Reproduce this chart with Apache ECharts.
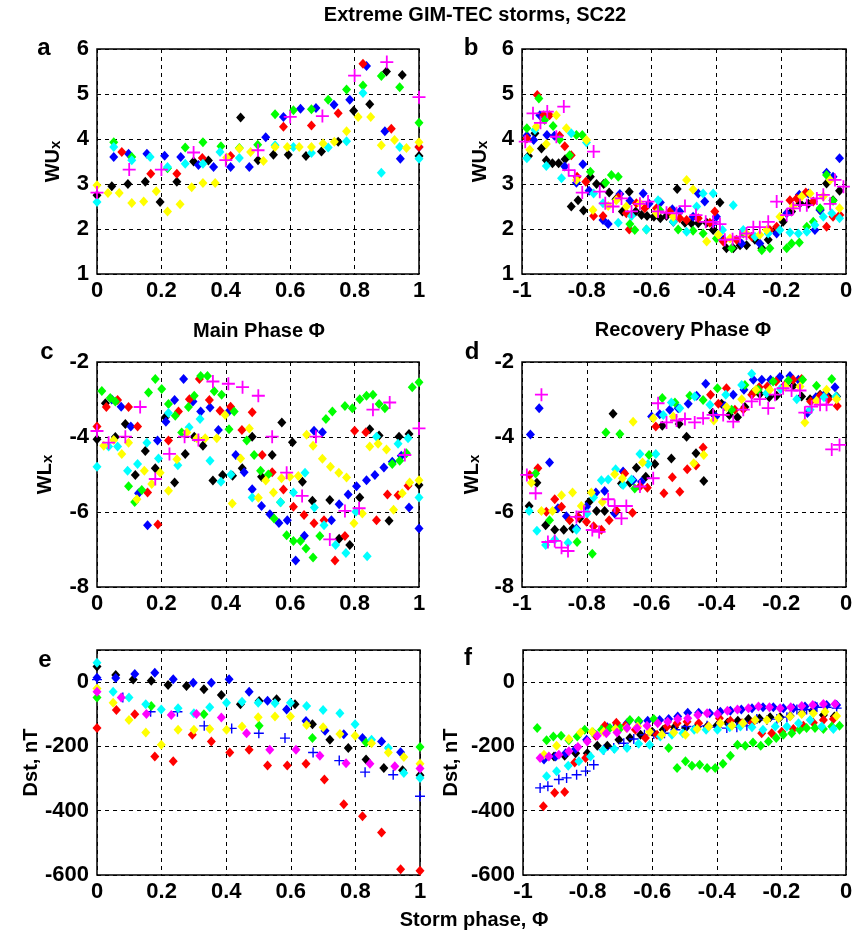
<!DOCTYPE html>
<html>
<head>
<meta charset="utf-8">
<title>Extreme GIM-TEC storms, SC22</title>
<script src="https://cdn.jsdelivr.net/npm/echarts@6/dist/echarts.min.js"></script>
<style>
  html, body { margin: 0; padding: 0; background: #fff; }
  #chart { width: 858px; height: 938px; }
</style>
</head>
<body>
<div id="chart"></div>
<script>
// ---- panel a : WUx vs main phase ----
const aBlack = [[0,2.75],[0.046,2.95],[0.096,3.0],[0.15,3.05],[0.196,2.6],[0.248,3.05],[0.3,3.5],[0.346,3.52],[0.446,4.48],[0.5,3.53],[0.548,3.65],[0.594,3.65],[0.649,3.62],[0.697,3.72],[0.749,3.94],[0.797,4.63],[0.847,4.77],[0.899,5.5],[0.948,5.42],[1,3.62]]
const aBlue = [[0.052,3.6],[0.098,3.67],[0.155,3.67],[0.21,3.63],[0.26,3.6],[0.315,3.42],[0.362,3.38],[0.415,3.38],[0.473,3.38],[0.524,4.04],[0.579,4.49],[0.632,4.67],[0.68,4.69],[0.736,4.76],[0.785,4.87],[0.837,5.62],[0.894,4.17],[0.942,3.56],[1,3.82]]
const aRed = [[0.077,3.71],[0.167,3.23],[0.248,3.23],[0.327,3.58],[0.415,3.62],[0.579,4.27],[0.666,4.3],[0.749,4.57],[0.826,5.67],[0.914,4.23],[1,3.82]]
const aGreen = [[0.052,3.93],[0.108,3.6],[0.219,3.35],[0.274,3.81],[0.329,3.93],[0.385,3.84],[0.442,3.8],[0.499,3.87],[0.553,4.55],[0.61,4.64],[0.666,4.66],[0.718,4.87],[0.775,5.1],[0.826,5.19],[0.883,5.4],[0.94,5.15],[1,4.36]]
const aCyan = [[0,2.6],[0.052,3.82],[0.108,3.53],[0.165,3.6],[0.219,3.38],[0.274,3.45],[0.329,3.45],[0.382,3.71],[0.442,3.58],[0.553,3.86],[0.61,3.82],[0.666,3.69],[0.718,3.81],[0.775,3.95],[0.826,5.02],[0.883,3.25],[0.94,3.82],[1,3.56]]
const aYellow = [[0,2.97],[0.034,2.8],[0.069,2.8],[0.108,2.58],[0.145,2.61],[0.184,2.84],[0.219,2.39],[0.258,2.55],[0.294,2.93],[0.329,3.02],[0.367,3.02],[0.403,3.59],[0.442,3.79],[0.477,3.71],[0.517,3.51],[0.553,3.82],[0.591,3.82],[0.628,3.82],[0.666,3.82],[0.702,3.9],[0.737,3.94],[0.775,4.17],[0.811,4.49],[0.85,4.49],[0.883,3.86],[0.924,3.98],[0.961,3.8],[1,3.93]]
const aMagenta = [[0,2.81],[0.1,3.32],[0.2,3.32],[0.3,3.7],[0.4,3.53],[0.5,3.75],[0.6,4.49],[0.7,4.51],[0.8,5.41],[0.9,5.71],[1,4.93]]

// ---- panel b : WUx vs recovery phase ----
const bBlack = [[-0.98,3.62],[-0.96,4.13],[-0.94,3.79],[-0.925,3.53],[-0.906,3.46],[-0.887,3.46],[-0.867,3.55],[-0.848,2.5],[-0.827,2.64],[-0.81,2.41],[-0.789,3.16],[-0.77,3.0],[-0.748,3.0],[-0.731,2.81],[-0.71,2.66],[-0.69,2.39],[-0.669,2.83],[-0.649,2.39],[-0.631,2.31],[-0.614,2.29],[-0.593,2.27],[-0.573,2.24],[-0.554,2.29],[-0.533,2.16],[-0.521,2.89],[-0.497,2.14],[-0.477,2.13],[-0.456,2.13],[-0.43,2.14],[-0.41,1.98],[-0.389,2.59],[-0.369,1.57],[-0.348,1.57],[-0.327,1.64],[-0.307,1.64],[-0.281,1.76],[-0.26,1.57],[-0.24,1.76],[-0.219,1.98],[-0.194,2.16],[-0.168,2.39],[-0.142,2.57],[-0.116,2.56],[-0.08,2.42],[-0.06,3.01],[-0.04,2.64],[-0.02,2.85]]
const bBlue = [[-0.985,4.07],[-0.964,3.98],[-0.945,4.53],[-0.923,4.09],[-0.9,4.07],[-0.868,3.39],[-0.832,3.03],[-0.812,3.44],[-0.793,2.85],[-0.75,2.2],[-0.734,2.11],[-0.698,2.78],[-0.667,2.63],[-0.626,2.79],[-0.608,2.56],[-0.573,2.59],[-0.536,2.44],[-0.513,2.39],[-0.472,2.27],[-0.456,2.79],[-0.436,2.61],[-0.41,2.13],[-0.4,2.27],[-0.379,1.76],[-0.322,1.68],[-0.266,1.68],[-0.214,1.9],[-0.183,2.35],[-0.144,2.76],[-0.116,2.79],[-0.096,1.98],[-0.08,2.42],[-0.06,3.25],[-0.04,3.16],[-0.02,3.57]]
const bRed = [[-0.985,4.01],[-0.953,4.98],[-0.933,4.53],[-0.915,4.53],[-0.884,4.07],[-0.868,3.84],[-0.848,3.64],[-0.83,3.16],[-0.803,3.05],[-0.779,2.29],[-0.75,2.29],[-0.703,2.7],[-0.678,2.35],[-0.669,1.99],[-0.647,2.57],[-0.621,2.46],[-0.585,2.46],[-0.544,2.39],[-0.513,2.24],[-0.492,2.2],[-0.456,2.24],[-0.42,2.14],[-0.405,2.39],[-0.379,1.72],[-0.338,1.76],[-0.291,1.83],[-0.235,1.98],[-0.214,2.05],[-0.173,2.64],[-0.152,2.68],[-0.124,2.81],[-0.101,2.61],[-0.06,2.05],[-0.04,2.27],[-0.019,2.31]]
const bGreen = [[-0.985,4.24],[-0.948,4.9],[-0.93,4.42],[-0.904,4.29],[-0.884,3.99],[-0.853,3.64],[-0.832,4.09],[-0.814,4.09],[-0.789,3.27],[-0.742,3.03],[-0.724,3.2],[-0.703,3.16],[-0.667,2.11],[-0.652,1.98],[-0.616,1.99],[-0.575,2.42],[-0.518,1.99],[-0.472,1.96],[-0.441,1.9],[-0.4,1.79],[-0.353,1.57],[-0.317,1.9],[-0.26,1.53],[-0.235,1.57],[-0.183,1.57],[-0.168,1.68],[-0.144,1.7],[-0.121,2.05],[-0.101,2.16],[-0.08,2.46],[-0.06,3.2],[-0.04,2.63]]
const bCyan = [[-0.985,3.57],[-0.96,4.2],[-0.925,3.4],[-0.878,3.13],[-0.848,4.13],[-0.801,3.92],[-0.779,2.79],[-0.75,2.57],[-0.703,2.14],[-0.662,2.29],[-0.616,1.99],[-0.58,2.64],[-0.533,2.16],[-0.492,1.94],[-0.461,2.5],[-0.441,2.79],[-0.41,2.79],[-0.381,1.98],[-0.348,2.53],[-0.317,1.98],[-0.281,1.83],[-0.24,1.9],[-0.204,1.98],[-0.173,1.92],[-0.147,1.9],[-0.121,1.94],[-0.096,2.09],[-0.07,2.27],[-0.044,2.35],[-0.02,2.24]]
const bYellow = [[-0.976,3.76],[-0.956,4.27],[-0.925,3.89],[-0.894,4.53],[-0.863,4.24],[-0.832,3.09],[-0.801,3.98],[-0.781,2.42],[-0.734,2.51],[-0.709,2.64],[-0.678,2.5],[-0.636,2.57],[-0.585,2.35],[-0.533,2.27],[-0.492,3.09],[-0.472,2.88],[-0.43,1.72],[-0.394,1.87],[-0.358,1.79],[-0.307,1.9],[-0.266,1.87],[-0.245,1.98],[-0.204,2.27],[-0.163,2.5],[-0.137,2.72],[-0.111,2.79],[-0.07,2.72],[-0.049,3.09],[-0.02,2.46]]
const bMagenta = [[-0.99,3.94],[-0.966,4.57],[-0.943,4.36],[-0.922,4.61],[-0.894,4.05],[-0.871,4.72],[-0.856,3.31],[-0.837,3.18],[-0.814,2.81],[-0.779,3.72],[-0.76,2.83],[-0.743,2.57],[-0.719,2.5],[-0.693,2.68],[-0.662,2.39],[-0.636,2.56],[-0.611,2.61],[-0.58,2.39],[-0.554,2.36],[-0.523,2.35],[-0.497,2.51],[-0.463,2.31],[-0.433,2.16],[-0.41,2.16],[-0.389,2.11],[-0.374,1.76],[-0.35,1.77],[-0.327,1.83],[-0.307,1.9],[-0.286,2.04],[-0.266,2.04],[-0.24,2.16],[-0.214,2.61],[-0.183,2.31],[-0.163,2.46],[-0.142,2.53],[-0.121,2.53],[-0.09,2.68],[-0.07,2.76],[-0.049,2.56],[-0.034,3.09],[-0.008,2.94]]

// ---- panel c : WLx vs main phase ----
const cBlack = [[0,-4.06],[0.026,-3.1],[0.057,-4.0],[0.088,-3.65],[0.119,-5.01],[0.15,-4.37],[0.181,-4.83],[0.212,-3.47],[0.241,-5.21],[0.274,-4.45],[0.302,-3.99],[0.329,-4.23],[0.36,-5.16],[0.39,-5.01],[0.421,-5.03],[0.451,-4.83],[0.482,-3.99],[0.511,-5.06],[0.544,-4.48],[0.574,-3.61],[0.607,-4.14],[0.638,-5.19],[0.669,-5.7],[0.723,-5.68],[0.752,-6.71],[0.785,-6.88],[0.816,-5.61],[0.847,-3.79],[0.876,-3.96],[0.907,-6.23],[0.938,-3.99],[0.969,-3.92],[1,-5.28]]
const cBlue = [[0.046,-3.0],[0.075,-3.19],[0.105,-3.72],[0.129,-5.5],[0.157,-6.35],[0.188,-4.09],[0.214,-3.59],[0.241,-3.01],[0.269,-2.45],[0.298,-3.05],[0.322,-3.32],[0.351,-3.21],[0.377,-3.81],[0.409,-3.32],[0.431,-4.48],[0.457,-4.94],[0.482,-5.39],[0.511,-5.84],[0.537,-6.06],[0.565,-6.29],[0.591,-6.22],[0.617,-7.29],[0.644,-6.63],[0.674,-3.83],[0.7,-3.87],[0.728,-6.22],[0.752,-5.79],[0.78,-5.53],[0.806,-5.31],[0.837,-5.15],[0.863,-5.01],[0.891,-4.81],[0.917,-4.66],[0.945,-4.5],[0.969,-5.88],[1,-6.44]]
const cRed = [[0,-3.72],[0.029,-3.2],[0.064,-3.01],[0.098,-3.2],[0.126,-3.72],[0.157,-5.48],[0.189,-6.33],[0.222,-4.09],[0.253,-3.32],[0.287,-2.99],[0.318,-2.45],[0.349,-3.01],[0.382,-3.3],[0.415,-3.19],[0.45,-3.81],[0.482,-3.34],[0.513,-4.48],[0.544,-4.94],[0.579,-5.4],[0.61,-5.86],[0.643,-6.08],[0.674,-6.3],[0.705,-6.22],[0.739,-7.29],[0.77,-6.64],[0.8,-3.83],[0.835,-3.87],[0.868,-6.22],[0.902,-5.53],[0.935,-5.55],[0.966,-5.3]]
const cGreen = [[0.015,-2.77],[0.041,-2.96],[0.057,-3.05],[0.098,-5.31],[0.117,-5.73],[0.139,-5.41],[0.16,-2.81],[0.181,-2.45],[0.201,-2.72],[0.222,-3.12],[0.243,-3.43],[0.263,-3.88],[0.284,-3.2],[0.302,-2.9],[0.322,-2.37],[0.343,-2.37],[0.364,-2.78],[0.387,-2.87],[0.41,-3.79],[0.426,-3.32],[0.465,-4.09],[0.488,-4.48],[0.508,-4.9],[0.532,-5.0],[0.55,-6.17],[0.57,-5.74],[0.589,-6.62],[0.61,-6.77],[0.632,-6.77],[0.649,-6.97],[0.671,-7.21],[0.692,-6.64],[0.711,-3.52],[0.731,-3.32],[0.77,-3.17],[0.793,-3.23],[0.816,-2.99],[0.837,-2.9],[0.857,-2.87],[0.876,-3.12],[0.894,-3.23],[0.917,-4.72],[0.94,-4.63],[0.961,-4.43],[0.979,-2.67],[1,-2.54]]
const cCyan = [[0,-4.79],[0.036,-4.25],[0.064,-4.25],[0.095,-4.9],[0.126,-4.72],[0.155,-4.15],[0.191,-4.57],[0.222,-3.36],[0.251,-4.75],[0.286,-3.74],[0.32,-3.52],[0.351,-4.63],[0.385,-5.19],[0.416,-5.0],[0.482,-5.61],[0.57,-5.74],[0.61,-5.48],[0.646,-4.95],[0.675,-5.88],[0.705,-6.35],[0.741,-6.88],[0.773,-7.09],[0.804,-5.99],[0.839,-7.18],[0.868,-3.99],[0.935,-4.18],[0.966,-4.03],[1,-5.61]]
const cYellow = [[0.021,-4.23],[0.052,-4.08],[0.077,-4.45],[0.098,-4.15],[0.124,-5.66],[0.147,-4.9],[0.17,-5.25],[0.196,-4.95],[0.222,-5.43],[0.248,-4.59],[0.279,-3.88],[0.31,-4.03],[0.336,-4.03],[0.372,-4.03],[0.398,-3.41],[0.42,-5.77],[0.446,-4.57],[0.473,-3.77],[0.501,-5.62],[0.524,-5.16],[0.548,-5.48],[0.573,-5.1],[0.599,-5.06],[0.625,-5.04],[0.651,-3.94],[0.671,-4.23],[0.7,-4.58],[0.725,-4.79],[0.751,-4.95],[0.775,-5.08],[0.798,-6.3],[0.824,-6.04],[0.847,-4.25],[0.873,-4.18],[0.899,-4.33],[0.921,-5.94],[0.948,-5.5],[0.971,-5.21],[1,-5.15]]
const cMagenta = [[0,-3.84],[0.036,-4.15],[0.088,-3.99],[0.134,-3.2],[0.181,-5.12],[0.225,-4.45],[0.272,-3.99],[0.315,-4.08],[0.36,-2.52],[0.408,-2.58],[0.452,-2.67],[0.501,-2.9],[0.544,-3.99],[0.589,-4.95],[0.637,-5.57],[0.68,-3.99],[0.723,-6.73],[0.77,-5.97],[0.814,-5.9],[0.857,-3.27],[0.909,-3.08],[0.956,-4.48],[1,-3.77]]

// ---- panel d : WLx vs recovery phase ----
const dBlack = [[-0.978,-5.84],[-0.954,-5.22],[-0.927,-6.35],[-0.899,-6.47],[-0.871,-6.47],[-0.844,-6.44],[-0.822,-6.17],[-0.793,-5.73],[-0.77,-5.97],[-0.745,-5.97],[-0.719,-3.38],[-0.693,-5.24],[-0.667,-5.22],[-0.647,-4.82],[-0.618,-5.06],[-0.59,-4.72],[-0.567,-3.7],[-0.539,-4.57],[-0.515,-3.65],[-0.492,-3.99],[-0.463,-4.43],[-0.439,-5.17],[-0.412,-3.35],[-0.384,-3.11],[-0.36,-3.41],[-0.335,-3.47],[-0.312,-3.2],[-0.286,-2.81],[-0.266,-2.85],[-0.237,-2.94],[-0.214,-2.9],[-0.194,-2.67],[-0.163,-2.63],[-0.137,-2.92],[-0.111,-2.99],[-0.08,-2.87],[-0.055,-2.92],[-0.029,-2.92]]
const dBlue = [[-0.974,-3.93],[-0.947,-3.23],[-0.915,-4.68],[-0.889,-5.9],[-0.863,-6.11],[-0.832,-6.44],[-0.801,-5.86],[-0.772,-5.48],[-0.745,-5.44],[-0.714,-6.04],[-0.688,-4.92],[-0.657,-5.15],[-0.631,-5.19],[-0.6,-3.45],[-0.575,-3.39],[-0.544,-3.27],[-0.518,-3.23],[-0.487,-3.11],[-0.461,-2.9],[-0.433,-2.58],[-0.402,-3.45],[-0.374,-3.17],[-0.348,-2.87],[-0.315,-2.74],[-0.286,-2.47],[-0.26,-2.47],[-0.233,-2.47],[-0.204,-2.4],[-0.173,-2.37],[-0.147,-2.47],[-0.119,-3.36],[-0.093,-2.94],[-0.065,-2.85],[-0.034,-2.67]]
const dRed = [[-0.976,-5.01],[-0.951,-4.83],[-0.925,-5.99],[-0.899,-5.66],[-0.878,-5.86],[-0.853,-6.22],[-0.827,-6.13],[-0.801,-6.26],[-0.779,-6.38],[-0.755,-6.47],[-0.731,-6.22],[-0.709,-5.95],[-0.683,-4.97],[-0.659,-6.02],[-0.636,-5.32],[-0.613,-5.35],[-0.587,-3.72],[-0.562,-5.5],[-0.536,-5.07],[-0.513,-5.46],[-0.49,-4.86],[-0.463,-4.76],[-0.441,-4.28],[-0.418,-2.87],[-0.394,-3.11],[-0.369,-2.7],[-0.343,-3.27],[-0.317,-3.26],[-0.291,-2.87],[-0.268,-2.67],[-0.243,-2.65],[-0.216,-2.52],[-0.188,-2.61],[-0.163,-2.47],[-0.137,-2.45],[-0.109,-3.05],[-0.08,-2.9],[-0.055,-2.99],[-0.027,-3.17]]
const dGreen = [[-0.958,-4.97],[-0.915,-6.22],[-0.83,-6.8],[-0.783,-7.11],[-0.741,-3.88],[-0.698,-3.92],[-0.652,-5.37],[-0.608,-4.48],[-0.567,-2.96],[-0.528,-3.08],[-0.482,-2.9],[-0.441,-3.01],[-0.397,-2.7],[-0.353,-3.27],[-0.312,-2.61],[-0.271,-2.74],[-0.225,-2.52],[-0.178,-2.49],[-0.134,-2.47],[-0.091,-2.63],[-0.044,-2.45]]
const dCyan = [[-0.978,-5.97],[-0.954,-6.5],[-0.927,-6.88],[-0.899,-6.73],[-0.858,-6.82],[-0.832,-6.47],[-0.799,-6.04],[-0.779,-5.61],[-0.755,-5.15],[-0.734,-5.13],[-0.711,-4.86],[-0.688,-5.28],[-0.662,-5.13],[-0.636,-4.45],[-0.611,-4.72],[-0.587,-4.45],[-0.564,-3.41],[-0.539,-3.08],[-0.513,-3.23],[-0.467,-2.92],[-0.42,-3.14],[-0.371,-2.87],[-0.322,-2.61],[-0.291,-2.31],[-0.245,-2.83],[-0.202,-2.72],[-0.152,-2.99],[-0.111,-3.27],[-0.068,-2.94],[-0.031,-2.92]]
const dYellow = [[-0.971,-5.22],[-0.94,-5.97],[-0.906,-5.97],[-0.878,-5.55],[-0.844,-5.48],[-0.817,-5.84],[-0.786,-5.48],[-0.752,-5.73],[-0.714,-4.99],[-0.69,-5.1],[-0.657,-3.59],[-0.628,-4.68],[-0.595,-3.5],[-0.533,-3.45],[-0.47,-4.7],[-0.439,-4.48],[-0.408,-3.56],[-0.369,-3.2],[-0.322,-2.99],[-0.278,-2.74],[-0.235,-2.74],[-0.188,-2.65],[-0.142,-2.65],[-0.127,-3.61],[-0.091,-3.03],[-0.06,-2.74],[-0.029,-2.99]]
const dMagenta = [[-0.985,-5.01],[-0.958,-5.5],[-0.94,-2.87],[-0.92,-6.8],[-0.899,-6.77],[-0.878,-6.95],[-0.858,-7.04],[-0.832,-6.13],[-0.809,-5.99],[-0.783,-6.48],[-0.762,-6.53],[-0.734,-5.66],[-0.714,-5.84],[-0.693,-6.17],[-0.678,-5.84],[-0.636,-5.32],[-0.595,-5.1],[-0.58,-3.1],[-0.554,-3.61],[-0.523,-3.56],[-0.497,-3.52],[-0.467,-3.61],[-0.441,-3.5],[-0.41,-3.41],[-0.379,-3.41],[-0.348,-3.59],[-0.317,-3.27],[-0.291,-3.05],[-0.266,-2.99],[-0.24,-3.23],[-0.219,-2.87],[-0.194,-2.7],[-0.168,-2.76],[-0.142,-2.76],[-0.127,-3.35],[-0.106,-3.19],[-0.08,-3.14],[-0.06,-3.14],[-0.044,-4.33],[-0.02,-4.21]]

// ---- panel e : Dst vs main phase ----
const eBlack = [[0,49],[0.058,22],[0.112,8],[0.168,4],[0.22,-9],[0.277,-12],[0.331,-22],[0.385,-40],[0.444,-69],[0.502,-59],[0.556,-53],[0.613,-69],[0.667,-131],[0.721,-179],[0.778,-205],[0.833,-241],[0.888,-267],[0.946,-274],[1,-290]]
const eBlue = [[0,14],[0.058,13],[0.117,25],[0.179,29],[0.236,9],[0.298,-2],[0.354,-2],[0.409,9],[0.471,-30],[0.528,-58],[0.587,-85],[0.647,-121],[0.706,-151],[0.764,-162],[0.822,-174],[0.881,-185],[0.94,-218]]
const eBluePlus = [[0,8],[0.08,-48],[0.166,-92],[0.249,-92],[0.332,-136],[0.417,-144],[0.501,-159],[0.582,-174],[0.669,-219],[0.75,-244],[0.83,-280],[0.917,-288],[1,-355]]
const eRed = [[0,-143],[0.06,-87],[0.117,-100],[0.179,-231],[0.236,-246],[0.295,-164],[0.354,-185],[0.411,-219],[0.471,-210],[0.528,-259],[0.589,-259],[0.647,-254],[0.704,-303],[0.764,-380],[0.822,-417],[0.881,-468],[0.94,-582],[1,-587]]
const eGreen = [[0,-48],[0.168,-74],[0.331,-100],[0.502,-136],[0.667,-174],[0.833,-188],[1,-202]]
const eCyan = [[0,60],[0.05,-30],[0.099,-48],[0.151,-69],[0.199,-85],[0.251,-81],[0.3,-97],[0.349,-78],[0.401,-64],[0.449,-61],[0.499,-64],[0.551,-66],[0.599,-64],[0.649,-74],[0.7,-87],[0.752,-97],[0.799,-131],[0.85,-179],[0.902,-205],[0.95,-283],[1,-298]]
const eYellow = [[0,-20],[0.05,-64],[0.099,-118],[0.151,-157],[0.199,-195],[0.251,-148],[0.3,-148],[0.349,-146],[0.401,-148],[0.449,-138],[0.499,-109],[0.551,-107],[0.599,-107],[0.649,-133],[0.7,-140],[0.752,-161],[0.799,-167],[0.85,-190],[0.902,-219],[0.95,-233],[1,-254]]
const eMagenta = [[0,-30],[0.075,-48],[0.153,-99],[0.23,-102],[0.308,-99],[0.385,-110],[0.463,-159],[0.535,-210],[0.616,-210],[0.69,-229],[0.771,-252],[0.845,-254],[0.922,-262],[1,-269]]

// ---- panel f : Dst vs recovery phase ----
const fBlack = [[-0.935,-236],[-0.904,-231],[-0.871,-229],[-0.837,-221],[-0.801,-221],[-0.77,-198],[-0.739,-198],[-0.703,-179],[-0.669,-174],[-0.636,-164],[-0.6,-154],[-0.566,-148],[-0.531,-140],[-0.497,-143],[-0.463,-140],[-0.43,-138],[-0.4,-136],[-0.367,-126],[-0.335,-120],[-0.302,-115],[-0.268,-113],[-0.235,-109],[-0.204,-109],[-0.173,-105],[-0.137,-97],[-0.103,-89],[-0.07,-102],[-0.036,-107]]
const fBlue = [[-0.935,-241],[-0.899,-231],[-0.868,-221],[-0.837,-208],[-0.803,-179],[-0.775,-164],[-0.739,-140],[-0.709,-133],[-0.678,-128],[-0.642,-123],[-0.614,-120],[-0.577,-118],[-0.549,-115],[-0.521,-107],[-0.49,-95],[-0.456,-95],[-0.422,-97],[-0.389,-92],[-0.358,-89],[-0.324,-85],[-0.291,-81],[-0.257,-78],[-0.225,-78],[-0.194,-81],[-0.163,-81],[-0.127,-76],[-0.096,-74],[-0.06,-71],[-0.029,-71]]
const fBluePlus = [[-0.947,-329],[-0.923,-324],[-0.889,-303],[-0.865,-298],[-0.834,-288],[-0.806,-277],[-0.781,-257],[-0.75,-210],[-0.719,-205],[-0.688,-190],[-0.657,-177],[-0.624,-164],[-0.595,-161],[-0.562,-159],[-0.528,-148],[-0.494,-138],[-0.461,-138],[-0.43,-136],[-0.4,-140],[-0.369,-143],[-0.338,-140],[-0.307,-136],[-0.276,-115],[-0.245,-118],[-0.214,-115],[-0.183,-109],[-0.152,-85],[-0.122,-85],[-0.09,-78],[-0.06,-78],[-0.029,-81]]
const fRed = [[-0.937,-386],[-0.902,-344],[-0.871,-342],[-0.84,-250],[-0.806,-236],[-0.775,-167],[-0.747,-136],[-0.711,-126],[-0.683,-136],[-0.652,-148],[-0.621,-174],[-0.585,-164],[-0.554,-138],[-0.523,-128],[-0.492,-123],[-0.456,-128],[-0.426,-138],[-0.392,-112],[-0.358,-120],[-0.322,-128],[-0.291,-126],[-0.261,-159],[-0.23,-159],[-0.199,-154],[-0.163,-146],[-0.132,-136],[-0.101,-126],[-0.07,-118],[-0.039,-115]]
const fGreen = [[-0.956,-143],[-0.927,-181],[-0.906,-169],[-0.882,-167],[-0.858,-181],[-0.832,-169],[-0.809,-148],[-0.783,-157],[-0.757,-148],[-0.731,-143],[-0.698,-143],[-0.669,-118],[-0.642,-120],[-0.595,-115],[-0.549,-205],[-0.523,-267],[-0.497,-246],[-0.477,-260],[-0.453,-257],[-0.43,-267],[-0.405,-267],[-0.381,-254],[-0.358,-229],[-0.336,-195],[-0.312,-198],[-0.288,-188],[-0.264,-198],[-0.24,-185],[-0.216,-174],[-0.194,-164],[-0.168,-159],[-0.144,-148],[-0.122,-143],[-0.096,-143],[-0.07,-146],[-0.044,-138],[-0.02,-136]]
const fCyan = [[-0.927,-293],[-0.896,-277],[-0.86,-260],[-0.827,-246],[-0.791,-231],[-0.752,-212],[-0.717,-208],[-0.678,-205],[-0.642,-192],[-0.608,-195],[-0.575,-169],[-0.539,-164],[-0.505,-159],[-0.47,-148],[-0.433,-148],[-0.398,-148],[-0.36,-140],[-0.327,-138],[-0.291,-140],[-0.257,-148],[-0.219,-138],[-0.183,-138],[-0.147,-128],[-0.111,-118],[-0.075,-138],[-0.039,-146]]
const fYellow = [[-0.935,-226],[-0.896,-198],[-0.858,-177],[-0.822,-157],[-0.786,-154],[-0.75,-154],[-0.714,-146],[-0.68,-143],[-0.645,-138],[-0.608,-154],[-0.57,-164],[-0.533,-157],[-0.497,-164],[-0.461,-146],[-0.425,-138],[-0.389,-128],[-0.353,-136],[-0.319,-128],[-0.281,-118],[-0.245,-118],[-0.209,-112],[-0.173,-107],[-0.137,-99],[-0.101,-97],[-0.065,-92],[-0.029,-105]]
const fMagenta = [[-0.947,-236],[-0.92,-231],[-0.889,-226],[-0.858,-215],[-0.83,-202],[-0.801,-185],[-0.77,-167],[-0.742,-159],[-0.709,-157],[-0.678,-143],[-0.647,-143],[-0.616,-136],[-0.583,-128],[-0.552,-123],[-0.521,-115],[-0.49,-112],[-0.459,-102],[-0.43,-97],[-0.398,-99],[-0.367,-89],[-0.336,-85],[-0.302,-81],[-0.271,-76],[-0.237,-78],[-0.204,-81],[-0.171,-78],[-0.137,-74],[-0.103,-71],[-0.07,-68],[-0.034,-68]]

const FONT = '"Liberation Sans", Arial, sans-serif'
const PLUS = 'path://M5.6,0H7.4V5.6H13V7.4H7.4V13H5.6V7.4H0V5.6H5.6Z'

// [data, color, symbol, size]
const dia = (data, color) => [data, color, 'diamond', [9, 10]]
const plus = (data, color, size) => [data, color, PLUS, size]

const panels = [
  { left: 97, top: 49, width: 322, x: [0, 1], y: [1, 6, 1], name: ['WU', 'x'], nameGap: 34,
    series: [dia(aBlack, '#000'), dia(aBlue, '#00f'), dia(aRed, '#f00'), dia(aGreen, '#0f0'), dia(aCyan, '#0ff'), dia(aYellow, '#ff0'), plus(aMagenta, '#f0f', 13)] },
  { left: 522, top: 49, width: 324, x: [-1, 0], y: [1, 6, 1], name: ['WU', 'x'], nameGap: 32,
    series: [dia(bBlack, '#000'), dia(bBlue, '#00f'), dia(bRed, '#f00'), dia(bGreen, '#0f0'), dia(bCyan, '#0ff'), dia(bYellow, '#ff0'), plus(bMagenta, '#f0f', 13)] },
  { left: 97, top: 362, width: 322, x: [0, 1], y: [-8, -2, 2], name: ['WL', 'x'], nameGap: 42,
    series: [dia(cBlack, '#000'), dia(cBlue, '#00f'), dia(cRed, '#f00'), dia(cGreen, '#0f0'), dia(cCyan, '#0ff'), dia(cYellow, '#ff0'), plus(cMagenta, '#f0f', 13)] },
  { left: 522, top: 362, width: 324, x: [-1, 0], y: [-8, -2, 2], name: ['WL', 'x'], nameGap: 40,
    series: [dia(dBlack, '#000'), dia(dBlue, '#00f'), dia(dRed, '#f00'), dia(dGreen, '#0f0'), dia(dCyan, '#0ff'), dia(dYellow, '#ff0'), plus(dMagenta, '#f0f', 13)] },
  { left: 97, top: 650, width: 323, x: [0, 1], y: [-600, 100, 200], name: ['Dst, nT', ''], nameGap: 40,
    series: [dia(eBlack, '#000'), dia(eBlue, '#00f'), plus(eBluePlus, '#00f', 10), dia(eRed, '#f00'), dia(eGreen, '#0f0'), dia(eCyan, '#0ff'), dia(eYellow, '#ff0'), dia(eMagenta, '#f0f')] },
  { left: 523, top: 650, width: 323, x: [-1, 0], y: [-600, 100, 200], name: ['Dst, nT', ''], nameGap: 62,
    series: [dia(fBlack, '#000'), dia(fBlue, '#00f'), plus(fBluePlus, '#00f', 10), dia(fRed, '#f00'), dia(fGreen, '#0f0'), dia(fCyan, '#0ff'), dia(fYellow, '#ff0'), dia(fMagenta, '#f0f')] }
]

const tickLabel = { color: '#000', fontSize: 22, fontWeight: 'bold', fontFamily: FONT }
const gridLine = { show: true, lineStyle: { color: '#000', type: [4, 4], width: 1 } }

const texts = [
  ['Extreme GIM-TEC storms, SC22', 475, 5, 20],
  ['Main Phase \u03A6', 259, 321, 20],
  ['Recovery Phase \u03A6', 683, 320, 20],
  ['Storm phase, \u03A6', 474, 910, 20],
  ['a', 44, 36, 24], ['b', 471, 36, 24],
  ['c', 47, 340, 24], ['d', 472, 340, 24],
  ['e', 45, 648, 24], ['f', 468, 646, 24]
]

const chart = echarts.init(document.getElementById('chart'), null, { renderer: 'canvas' })
chart.setOption({
  animation: false,
  backgroundColor: '#fff',
  title: texts.map(([text, x, y, size]) => ({
    text, left: x, top: y, textAlign: 'center', padding: 0,
    textStyle: { color: '#000', fontSize: size, fontWeight: 'bold', fontFamily: FONT }
  })),
  grid: panels.map(p => ({
    left: p.left, top: p.top, width: p.width, height: 225, show: true,
    borderColor: '#000', borderWidth: 1.5, backgroundColor: '#fff', containLabel: false
  })),
  xAxis: panels.map((p, i) => ({
    gridIndex: i, type: 'value', min: p.x[0], max: p.x[1], interval: 0.2,
    axisLine: { show: false }, axisTick: { show: false }, splitLine: gridLine,
    axisLabel: { ...tickLabel, margin: 6 }
  })),
  yAxis: panels.map((p, i) => ({
    gridIndex: i, type: 'value', min: p.y[0], max: p.y[1], interval: p.y[2],
    axisLine: { show: false }, axisTick: { show: false }, splitLine: gridLine,
    axisLabel: { ...tickLabel, margin: 8, formatter: v => (v === 100 ? '' : String(v)) },
    name: '{n|' + p.name[0] + '}' + (p.name[1] ? '{s|' + p.name[1] + '}' : ''),
    nameLocation: 'middle', nameGap: p.nameGap,
    nameTextStyle: {
      rich: {
        n: { fontSize: 20, fontWeight: 'bold', fontFamily: FONT, color: '#000' },
        s: { fontSize: 15, fontWeight: 'bold', fontFamily: FONT, color: '#000', verticalAlign: 'bottom' }
      }
    }
  })),
  series: panels.flatMap((p, i) => p.series.map(([data, color, symbol, size]) => ({
    type: 'scatter', xAxisIndex: i, yAxisIndex: i, data,
    symbol, symbolSize: size, clip: false,
    itemStyle: { color, opacity: 1 },
    emphasis: { disabled: true }, silent: true
  })))
})
</script>
</body>
</html>
